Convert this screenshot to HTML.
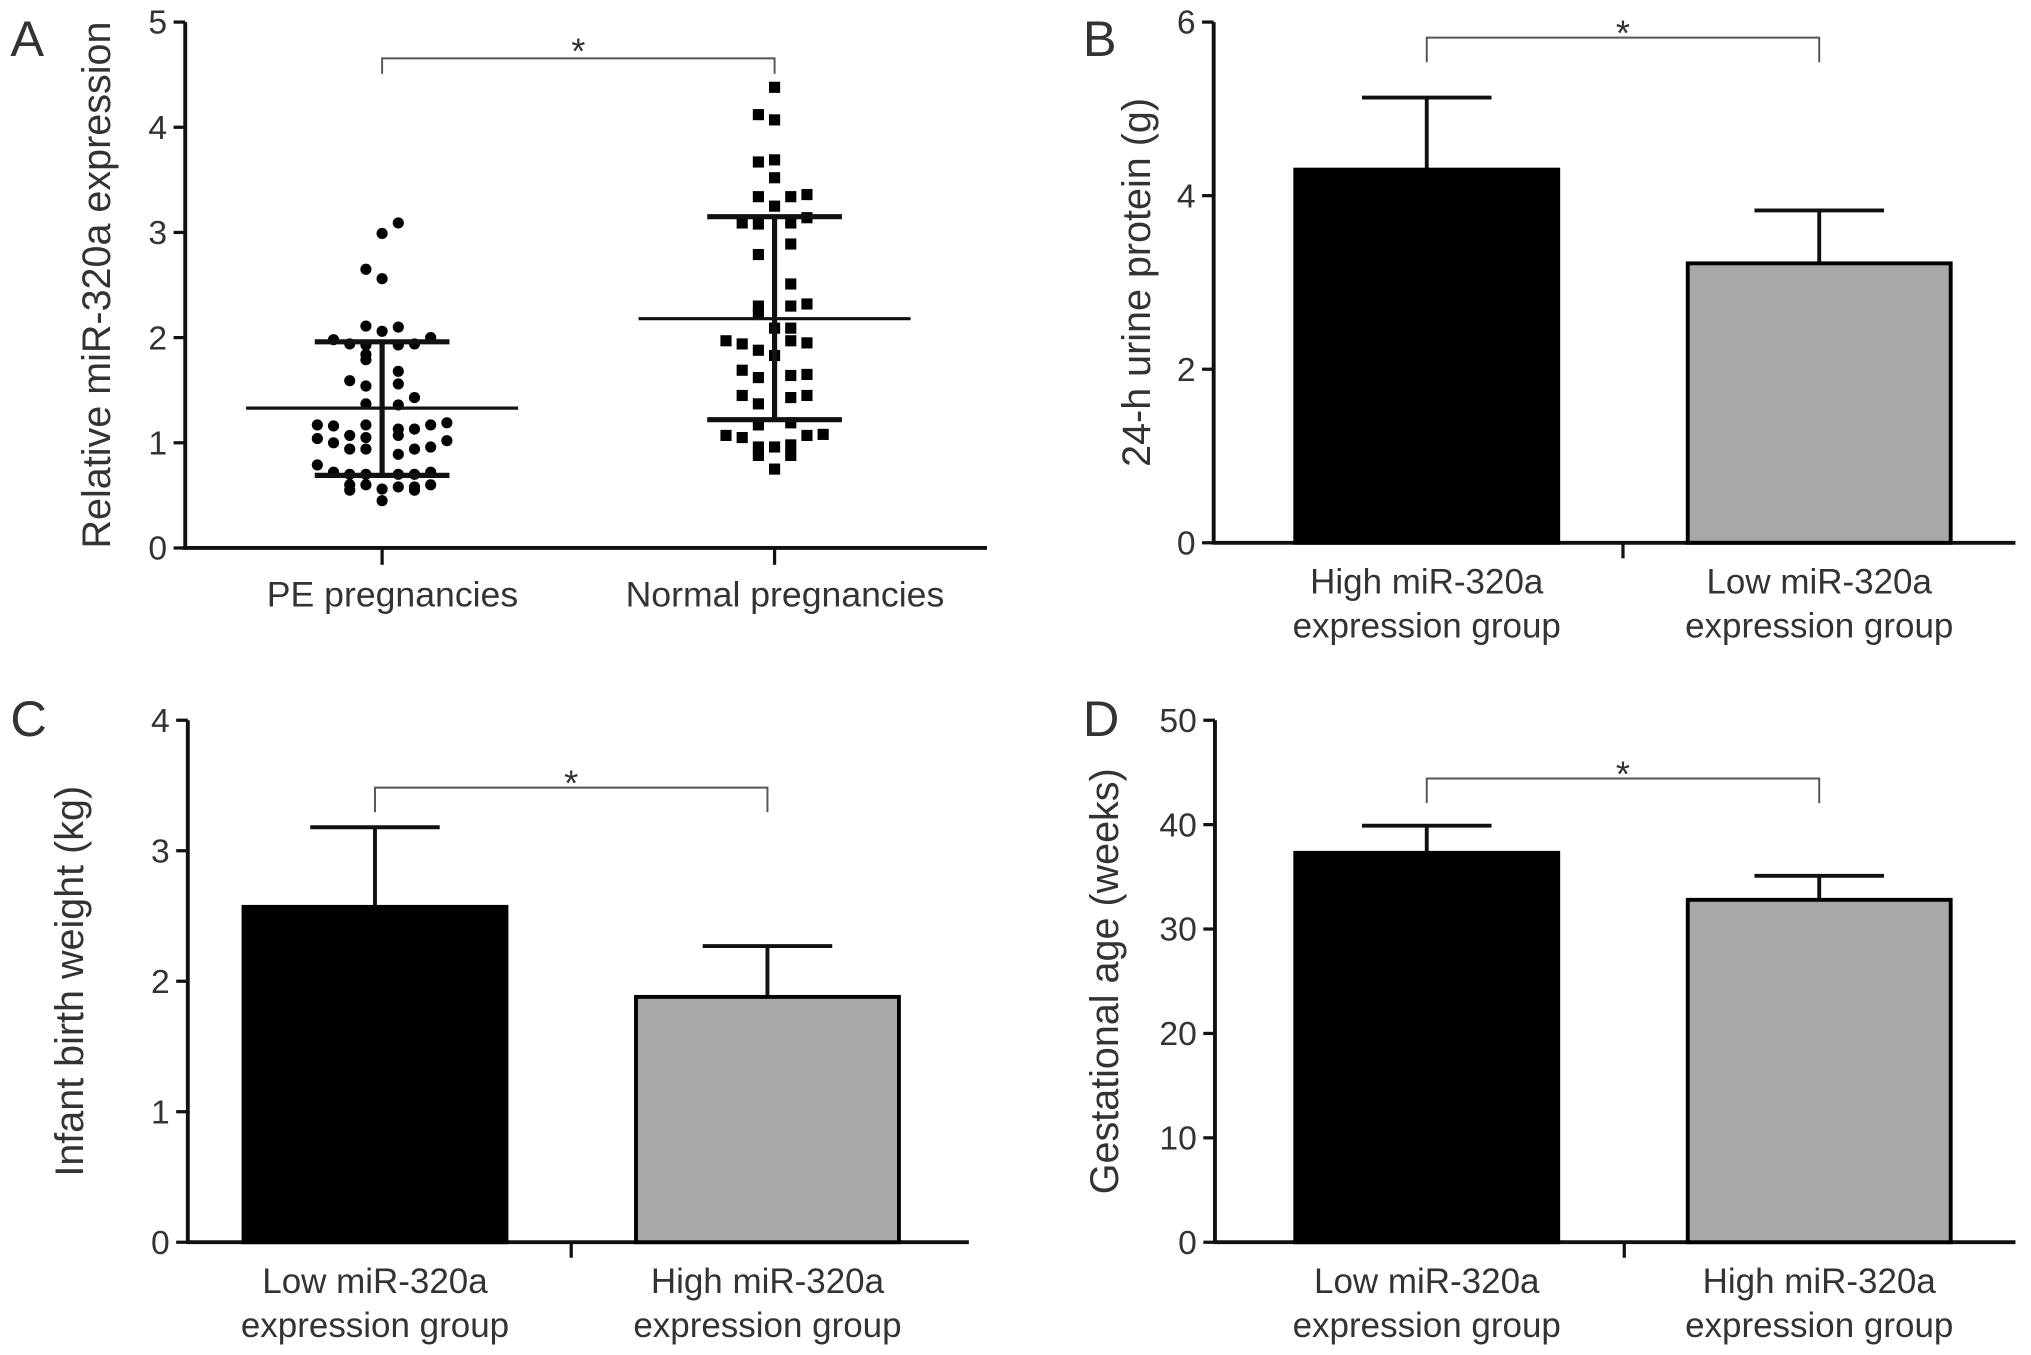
<!DOCTYPE html>
<html><head><meta charset="utf-8">
<style>
html,body{margin:0;padding:0;background:#fff;}
svg{display:block;}
text{font-family:"Liberation Sans",sans-serif;fill:#333;}
</style></head>
<body>
<svg id="fig" width="2031" height="1355" viewBox="0 0 1568 1046" xmlns="http://www.w3.org/2000/svg"></svg>
<script>
// ---------- Panel A data ----------
const aCategories = ["PE pregnancies", "Normal pregnancies"];
const aTicks = [0,1,2,3,4,5];
const peValues = [3.09,2.99,2.65,2.56,2.11,2.10,2.06,1.98,2.0,1.94,1.93,1.93,1.94,1.84,1.79,1.68,1.59,1.56,1.54,1.43,1.37,1.36,1.17,1.16,1.17,1.13,1.13,1.17,1.19,1.04,1.07,1.05,1.07,1.0,1.02,0.94,0.94,0.89,0.94,0.96,0.79,0.72,0.70,0.70,0.70,0.70,0.72,0.60,0.60,0.58,0.58,0.60,0.55,0.56,0.55,0.45];
const peSlots = [1,0,-1,0,-1,1,0,-3,3,-2,-1,1,2,-1,-1,1,-2,1,-1,2,-1,1,-4,-3,-1,1,2,3,4,-4,-2,-1,1,-3,4,-2,-1,1,2,3,-4,-3,-2,-1,1,2,3,-2,-1,1,2,3,-2,0,2,0];
const normValues = [4.38,4.12,4.07,3.67,3.69,3.52,3.34,3.34,3.36,3.25,3.09,3.08,3.09,3.14,2.89,2.79,2.51,2.30,2.30,2.32,2.22,2.09,2.09,1.97,1.94,1.97,1.95,1.88,1.83,1.69,1.62,1.64,1.65,1.45,1.37,1.43,1.45,1.07,1.05,1.17,1.19,1.07,1.08,0.96,0.98,0.96,0.88,0.88,0.75];
const normSlots = [0,-1,0,-1,0,0,-1,1,2,0,-2,-1,1,2,1,-1,1,-1,1,2,-1,0,1,-3,-2,1,2,-1,0,-2,-1,1,2,-2,-1,1,2,-3,-2,-1,1,2,3,-1,1,0,-1,1,0];
const aMeans = [1.33, 2.18];
const aSdLow = [0.69, 1.22];
const aSdHigh = [1.96, 3.15];

// ---------- Panel B/C/D data ----------
const bCategories = [["High miR-320a","expression group"],["Low miR-320a","expression group"]];
const bValues = [4.3, 3.22];
const bErrors = [0.83, 0.61];
const bTicks = [0,2,4,6];
const cCategories = [["Low miR-320a","expression group"],["High miR-320a","expression group"]];
const cValues = [2.57, 1.88];
const cErrors = [0.61, 0.39];
const cTicks = [0,1,2,3,4];
const dCategories = [["Low miR-320a","expression group"],["High miR-320a","expression group"]];
const dValues = [37.3, 32.8];
const dErrors = [2.6, 2.3];
const dTicks = [0,10,20,30,40,50];

const NS = "http://www.w3.org/2000/svg";
const svg = document.getElementById("fig");
function mk(tag, attrs, parent, name, txt) {
  const e = document.createElementNS(NS, tag);
  for (const k in attrs) e.setAttribute(k, attrs[k]);
  
  
  if (txt !== undefined) e.textContent = txt;
  (parent || svg).appendChild(e);
  return e;
}
function line(x1,y1,x2,y2,w,p,name,col){return mk('line',{x1,y1,x2,y2,stroke:col||'#111','stroke-width':w},p,name);}

function yAxis(g, x, yScale, ticks, top, bottom, label, labelX) {
  line(x, top, x, bottom, 3, g, 'y-axis-line');
  ticks.forEach(t => {
    const y = yScale(t);
    line(x-9, y, x, y, 2.5, g, 'y-tick');
    mk('text',{x:x-14,y:y+9,'text-anchor':'end','font-size':26},g,'y-tick-label',t);
  });
  const cy = (top+bottom)/2;
  mk('text',{x:labelX,y:cy,'text-anchor':'middle','font-size':30.5,transform:`rotate(-90 ${labelX} ${cy})`},g,'y-axis-title',label);
}
function bracket(g,x1,x2,y,drop){
  mk('path',{d:`M${x1},${y+drop}V${y}H${x2}V${y+drop}`,fill:'none',stroke:'#555','stroke-width':1.5},g,'significance-bracket');
  mk('text',{x:(x1+x2)/2,y:y+(drop>15?6:4),'text-anchor':'middle','font-size':28},g,'significance-star','*');
}

// ---------- Panel A ----------
(function(){
  const g = mk('g',{},svg,'panel-a');
  mk('text',{x:8,y:43,'font-size':39},g,'panel-label-a','A');
  const y0=423, unit=81.2;
  const ys = v => y0 - v*unit;
  const cx = [295, 598];
  yAxis(g,143,ys,aTicks,17,y0,'Relative miR-320a expression',85);
  line(141,y0,762,y0,3,g,'x-axis-line');
  cx.forEach((c,i)=>{
    line(c,y0,c,436,2.5,g,'x-tick');
    mk('text',{x:c+8,y:468,'text-anchor':'middle','font-size':27.5},g,'x-tick-label',aCategories[i]);
  });
  peValues.forEach((v,i)=>{
    mk('circle',{cx:cx[0]+peSlots[i]*12.5,cy:ys(v),r:4.3,fill:'#000'},g,'pe-point');
  });
  normValues.forEach((v,i)=>{
    const x=cx[1]+normSlots[i]*12.5, y=ys(v);
    mk('rect',{x:x-4.3,y:y-4.3,width:8.6,height:8.6,fill:'#000'},g,'normal-point');
  });
  cx.forEach((c,i)=>{
    line(c,ys(aSdLow[i]),c,ys(aSdHigh[i]),4,g,'sd-whisker');
    line(c-52,ys(aSdLow[i]),c+52,ys(aSdLow[i]),4,g,'sd-cap-low');
    line(c-52,ys(aSdHigh[i]),c+52,ys(aSdHigh[i]),4,g,'sd-cap-high');
    line(c-105,ys(aMeans[i]),c+105,ys(aMeans[i]),2.5,g,'mean-line');
  });
  bracket(g,cx[0],cx[1],45,12);
})();

// ---------- Bar panels ----------
function barPanel(o){
  const g = mk('g',{},svg,o.name);
  mk('text',{x:o.letterX,y:o.letterY,'font-size':39},g,o.name+'-label',o.letter);
  const ys = v => o.y0 - (v/o.max)*(o.y0-o.top);
  yAxis(g,o.ax,ys,o.ticks,o.top,o.y0,o.ylabel,o.labelX);
  line(o.ax-1,o.y0,o.axEnd,o.y0,3,g,'x-axis-line');
  line(o.mid,o.y0,o.mid,o.y0+12,2.5,g,'x-tick');
  const fills=['#000','#a8a8a8'];
  o.values.forEach((v,i)=>{
    const x=o.bx[i], c=x+101.5, yt=ys(v), ye=ys(v+o.errors[i]);
    line(c,yt,c,ye,3,g,'error-bar');
    line(c-50,ye,c+50,ye,3,g,'error-cap');
    mk('rect',{x:x,y:yt,width:203,height:o.y0-yt,fill:fills[i],stroke:'#000','stroke-width':3},g,'bar-'+(i+1));
    mk('text',{x:c,y:o.y0+39,'text-anchor':'middle','font-size':27},g,'x-tick-label',o.cats[i][0]);
    mk('text',{x:c,y:o.y0+73,'text-anchor':'middle','font-size':27},g,'x-tick-label',o.cats[i][1]);
  });
  bracket(g,o.bx[0]+101.5,o.bx[1]+101.5,o.brY,19);
}
barPanel({name:'panel-b',letter:'B',letterX:836,letterY:43,ax:937,axEnd:1556,top:17,y0:419,max:6,ticks:bTicks,
  values:bValues,errors:bErrors,cats:bCategories,bx:[1000,1303],mid:1253,ylabel:'24-h urine protein (g)',labelX:888,brY:29});
barPanel({name:'panel-c',letter:'C',letterX:8,letterY:568,ax:145,axEnd:748,top:556,y0:959,max:4,ticks:cTicks,
  values:cValues,errors:cErrors,cats:cCategories,bx:[188,491],mid:441,ylabel:'Infant birth weight (kg)',labelX:64,brY:608});
barPanel({name:'panel-d',letter:'D',letterX:836,letterY:568,ax:938,axEnd:1556,top:556,y0:959,max:50,ticks:dTicks,
  values:dValues,errors:dErrors,cats:dCategories,bx:[1000,1303],mid:1254,ylabel:'Gestational age (weeks)',labelX:863,brY:601});
</script>
</body></html>
